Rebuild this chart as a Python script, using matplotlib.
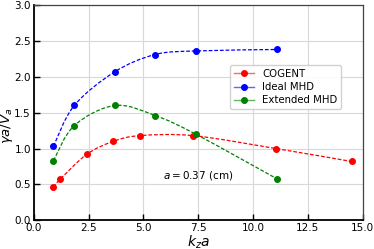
import matplotlib
matplotlib.use('Agg')
import matplotlib.pyplot as plt
from matplotlib.path import Path
from matplotlib.patches import PathPatch
from matplotlib.lines import Line2D
import numpy as np

# data
kza_cogent = [0.90, 1.20, 2.42, 3.63, 4.84, 7.27, 11.05, 14.49]
gam_cogent = [0.46, 0.57, 0.92, 1.10, 1.18, 1.18, 1.00, 0.82]

kza_mhd = [0.90, 1.85, 3.70, 5.54, 7.39, 11.08]
gam_ideal = [1.03, 1.60, 2.07, 2.31, 2.36, 2.38]
gam_ext = [0.83, 1.32, 1.60, 1.46, 1.20, 0.58]

series = [
    ('COGENT', kza_cogent, gam_cogent, 'red'),
    ('Ideal MHD', kza_mhd, gam_ideal, 'blue'),
    ('Extended MHD', kza_mhd, gam_ext, 'green'),
]


def smooth_path(x, y):
    """Catmull-Rom curve through the points, as bezier segments"""
    pts = np.column_stack([x, y])
    verts = [pts[0]]
    codes = [Path.MOVETO]
    n = len(pts)
    for i in range(n - 1):
        p0 = pts[max(i - 1, 0)]
        p1 = pts[i]
        p2 = pts[i + 1]
        p3 = pts[min(i + 2, n - 1)]
        c1 = p1 + (p2 - p0) / 6.0
        c2 = p2 - (p3 - p1) / 6.0
        verts += [c1, c2, p2]
        codes += [Path.CURVE4] * 3
    return Path(verts, codes)


fig, ax = plt.subplots(figsize=(3.74, 2.49), dpi=100)
fig.subplots_adjust(left=0.09, right=0.97, bottom=0.115, top=0.98)

handles = []
for label, x, y, c in series:
    patch = PathPatch(smooth_path(x, y), facecolor='none', edgecolor=c,
                      lw=0.9, ls=(0, (3, 1.5)), zorder=2)
    ax.add_patch(patch)
    ax.plot(x, y, 'o', color=c, ms=4, zorder=3)
    h = (Line2D([], [], color=c, lw=1.0, alpha=0.6),
         Line2D([], [], color=c, marker='o', ms=4, ls='none'))
    handles.append(h)

ax.set_xlim(0, 15)
ax.set_ylim(0, 3)
ax.set_xticks(np.arange(0, 15.1, 2.5))
ax.set_yticks(np.arange(0, 3.01, 0.5))
ax.grid(True, color='#d8d8d8', lw=0.8)
ax.set_axisbelow(True)
ax.tick_params(direction='in', labelsize=7.5, pad=2, length=4, width=1, color='black')

for s in ['left', 'bottom']:
    ax.spines[s].set_linewidth(1.3)
    ax.spines[s].set_color('black')
for s in ['top', 'right']:
    ax.spines[s].set_linewidth(0.9)
    ax.spines[s].set_color('#444444')

ax.set_xlabel(r'$k_z a$', fontsize=10, labelpad=0)
ax.set_ylabel(r'$\gamma a/V_a$', fontsize=9.5)
ax.yaxis.set_label_coords(-0.057, 0.44)
ax.text(5.9, 0.62, r'$a = 0.37$ (cm)', fontsize=7.5, va='center', ha='left')

ax.legend(handles, [s[0] for s in series], fontsize=7.3, loc='upper right',
          bbox_to_anchor=(0.95, 0.745), handlelength=2.0, borderpad=0.4,
          labelspacing=0.3, framealpha=0.9, edgecolor='#cccccc')

fig.savefig('out.png', dpi=100)
